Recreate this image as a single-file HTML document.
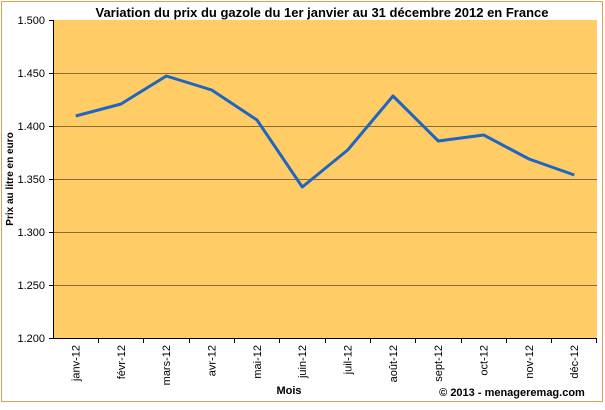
<!DOCTYPE html><html><head><meta charset="utf-8"><style>body{margin:0;background:#fff}</style></head><body>
<svg width="605" height="405" xmlns="http://www.w3.org/2000/svg" font-family="Liberation Sans, sans-serif">
<rect x="0" y="0" width="605" height="405" fill="#fff"/>
<rect x="1.5" y="1.5" width="601" height="400" fill="none" stroke="#e0a050" stroke-width="1"/>
<rect x="53" y="20" width="544" height="318" fill="#ffcc66"/>
<g stroke="#8a6a3a" stroke-width="1">
<line x1="53" y1="73.5" x2="597" y2="73.5"/><line x1="53" y1="126.5" x2="597" y2="126.5"/><line x1="53" y1="179.5" x2="597" y2="179.5"/><line x1="53" y1="232.5" x2="597" y2="232.5"/><line x1="53" y1="285.5" x2="597" y2="285.5"/>
</g>
<g stroke="#000" stroke-width="1">
<line x1="53.5" y1="20" x2="53.5" y2="338"/><line x1="53" y1="338.5" x2="597" y2="338.5"/>
<line x1="49" y1="20.5" x2="53" y2="20.5"/><line x1="49" y1="73.5" x2="53" y2="73.5"/><line x1="49" y1="126.5" x2="53" y2="126.5"/><line x1="49" y1="179.5" x2="53" y2="179.5"/><line x1="49" y1="232.5" x2="53" y2="232.5"/><line x1="49" y1="285.5" x2="53" y2="285.5"/><line x1="49" y1="338.5" x2="53" y2="338.5"/>
<path d="M98.5 338v5M143.5 338v5M189.5 338v5M234.5 338v5M279.5 338v5M325.5 338v5M370.5 338v5M415.5 338v5M461.5 338v5M506.5 338v5M551.5 338v5M596.5 338v5"/>
</g>
<g font-size="11" text-anchor="end" fill="#000">
<text x="45" y="24">1.500</text><text x="45" y="77">1.450</text><text x="45" y="130">1.400</text><text x="45" y="183">1.350</text><text x="45" y="236">1.300</text><text x="45" y="289">1.250</text><text x="45" y="342">1.200</text>
</g>
<polyline fill="none" stroke="#1f66c0" stroke-width="3" stroke-linejoin="round" points="75.7,116 121,104 166.3,76 211.7,90 257,120 302.3,187 347.7,150 393,96 438.3,141 483.7,135 529,159 574.3,175"/>
<g font-size="11" text-anchor="end" fill="#000">
<text transform="translate(79.5,345) rotate(-90)">janv-12</text>
<text transform="translate(124.8,345) rotate(-90)">févr-12</text>
<text transform="translate(170.1,345) rotate(-90)">mars-12</text>
<text transform="translate(215.5,345) rotate(-90)">avr-12</text>
<text transform="translate(260.8,345) rotate(-90)">mai-12</text>
<text transform="translate(306.1,345) rotate(-90)">juin-12</text>
<text transform="translate(351.5,345) rotate(-90)">juil-12</text>
<text transform="translate(396.8,345) rotate(-90)">août-12</text>
<text transform="translate(442.1,345) rotate(-90)">sept-12</text>
<text transform="translate(487.5,345) rotate(-90)">oct-12</text>
<text transform="translate(532.8,345) rotate(-90)">nov-12</text>
<text transform="translate(578.1,345) rotate(-90)">déc-12</text>
</g>
<text x="322" y="17" font-size="13" font-weight="bold" text-anchor="middle">Variation du prix du gazole du 1er janvier au 31 décembre 2012 en France</text>
<text x="289" y="394" font-size="11" font-weight="bold" text-anchor="middle">Mois</text>
<text transform="translate(13,179) rotate(-90)" font-size="10" font-weight="bold" text-anchor="middle">Prix au litre en euro</text>
<text x="512" y="396" font-size="11" font-weight="bold" text-anchor="middle">© 2013 - menageremag.com</text>
</svg>
</body></html>
